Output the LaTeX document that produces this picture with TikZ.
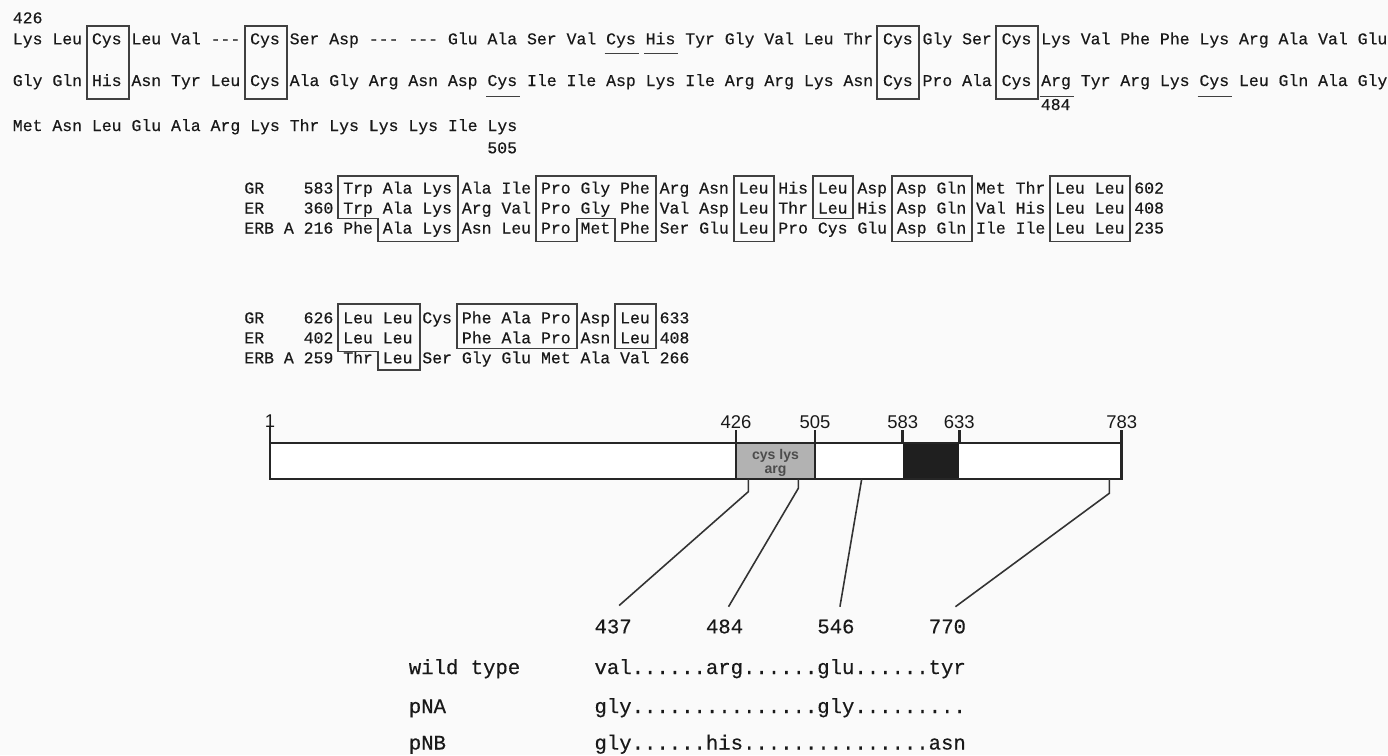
\documentclass[tikz,border=0pt]{standalone}
\usepackage{fontspec}
\newfontfamily\seqfont[FakeBold=0.4]{Liberation Mono}
\newfontfamily\barfont{Liberation Sans}
\usetikzlibrary{calc}
\tikzset{seqtext/.style={anchor=base west,inner sep=0pt,text=black!90,font=\seqfont\fontsize{9.38}{11}\selectfont}}
\tikzset{tabtext/.style={anchor=base west,inner sep=0pt,text=black!90,font=\seqfont\fontsize{11.74}{14}\selectfont}}
\tikzset{barnum/.style={anchor=base,inner sep=0pt,text=black!90,font=\barfont\fontsize{10.5}{12}\selectfont}}
\tikzset{motif/.style={draw=black!75,line width=1.1pt}}
\tikzset{uline/.style={draw=black!75,line width=1pt}}
\tikzset{barline/.style={draw=black!85,line width=1.4pt}}
\tikzset{link/.style={draw=black!80,line width=0.9pt}}
\newcommand{\gapres}{-\kern0pt-\kern0pt-}

\begin{document}
\begin{tikzpicture}[x=0.02cm,y=-0.02cm]
            \fill[black!2] (0,0) rectangle (1388,755);
            \useasboundingbox (0,0) rectangle (1388,755);
            \node[seqtext] (r426) at (12.5,23.3) {426};
            \node[seqtext] (row1) at (12.5,44.3) {Lys Leu Cys Leu Val \gapres{} Cys Ser Asp \gapres{} \gapres{} Glu Ala Ser Val Cys His Tyr Gly Val Leu Thr Cys Gly Ser Cys Lys Val Phe Phe Lys Arg Ala Val Glu};
            \node[seqtext] (row2) at (12.5,86) {Gly Gln His Asn Tyr Leu Cys Ala Gly Arg Asn Asp Cys Ile Ile Asp Lys Ile Arg Arg Lys Asn Cys Pro Ala Cys Arg Tyr Arg Lys Cys Leu Gln Ala Gly};
            \node[seqtext] (row3) at (12.5,131) {Met Asn Leu Glu Ala Arg Lys Thr Lys Lys Lys Ile Lys};
            \node[seqtext] (l484) at (1040.5,110) {484};
            \node[seqtext] (l505) at (487,153.3) {505};
            \draw[motif] (86.6,26) rectangle (128.6,99);
            \draw[motif] (244.7,26) rectangle (286.7,99);
            \draw[motif] (877.4,26) rectangle (919.4,99);
            \draw[motif] (996,26) rectangle (1038,99);
            \draw[uline] (604.6,53.5) -- (638.6,53.5);
            \draw[uline] (644.1,53.5) -- (678.1,53.5);
            \draw[uline] (486,96.5) -- (520,96.5);
            \draw[uline] (1039.5,96.5) -- (1073.5,96.5);
            \draw[uline] (1197.7,96.5) -- (1231.7,96.5);
            % GR / ER / ERB A, 583-602
            \node[seqtext] (gr1) at (244,193.5) {GR~~~~583 Trp Ala Lys Ala Ile Pro Gly Phe Arg Asn Leu His Leu Asp Asp Gln Met Thr Leu Leu 602};
            \node[seqtext] (er1) at (244,213.5) {ER~~~~360 Trp Ala Lys Arg Val Pro Gly Phe Val Asp Leu Thr Leu His Asp Gln Val His Leu Leu 408};
            \node[seqtext] (erb1) at (244,233.5) {ERB A 216 Phe Ala Lys Asn Leu Pro Met Phe Ser Glu Leu Pro Cys Glu Asp Gln Ile Ile Leu Leu 235};
            \draw[motif] (338.4,176) -- (457.9,176) -- (457.9,241.5) -- (377.9,241.5) -- (377.9,218.5) -- (338.4,218.5) -- cycle;
            \draw[motif] (536.1,176) -- (655.6,176) -- (655.6,241.5) -- (615.1,241.5) -- (615.1,218.5) -- (576.6,218.5) -- (576.6,241.5) -- (536.1,241.5) -- cycle;
            \draw[motif] (733.8,176) rectangle (774.3,241.5);
            \draw[motif] (812.9,176) rectangle (853.4,218.5);
            \draw[motif] (892,176) rectangle (972,241.5);
            \draw[motif] (1050.1,176) rectangle (1130.1,241.5);
            % GR / ER / ERB A, 626-633
            \node[seqtext] (gr2) at (244,323.3) {GR~~~~626 Leu Leu Cys Phe Ala Pro Asp Leu 633};
            \node[seqtext] (er2) at (244,343.3) {ER~~~~402 Leu Leu~~~~~Phe Ala Pro Asn Leu 408};
            \node[seqtext] (erb2) at (244,363.3) {ERB A 259 Thr Leu Ser Gly Glu Met Ala Val 266};
            \draw[motif] (338.4,304) -- (420,304) -- (420,370) -- (377.9,370) -- (377.9,351.5) -- (338.4,351.5) -- cycle;
            \draw[motif] (457,304) rectangle (576.6,348.5);
            \draw[motif] (615.1,304) rectangle (655.6,348.5);
            % receptor bar
            \fill[white] (270,443) rectangle (1121.7,479);
            \fill[black!30] (736,443) rectangle (815,479);
            \fill[black!88] (902.7,443) rectangle (959.3,479);
            \draw[barline] (270,443) rectangle (1121.7,479);
            \draw[barline] (736,443) -- (736,479);
            \draw[barline] (815,443) -- (815,479);
            \node[font=\barfont\bfseries\fontsize{8}{8}\selectfont,text=black!70,align=center,inner sep=0pt] (dbd) at (775.5,462.5) {cys lys\\arg};
            \node[barnum] (t1) at (270,427) {1};
            \node[barnum] (t426) at (736,428.3) {426};
            \node[barnum] (t505) at (815,428.3) {505};
            \node[barnum] (t583) at (902.7,428.3) {583};
            \node[barnum] (t633) at (959.3,428.3) {633};
            \node[barnum] (t783) at (1121.7,428.3) {783};
            \draw[barline] (270,427) -- (270,443);
            \draw[barline] (736,430) -- (736,443);
            \draw[barline] (815,430) -- (815,443);
            \draw[barline] (902.7,430) -- (902.7,443);
            \draw[barline] (959.3,430) -- (959.3,443);
            \draw[barline] (1121.7,430) -- (1121.7,443);
            % mutations
            \node[tabtext] (n437) at (594.2,633.3) {437};
            \node[tabtext] (n484) at (705.6,633.3) {484};
            \node[tabtext] (n546) at (817,633.3) {546};
            \node[tabtext] (n770) at (928.5,633.3) {770};
            \node[tabtext] (wt) at (408.5,674) {wild type~~~~~~val......arg......glu......tyr};
            \node[tabtext] (pna) at (408.5,713) {pNA~~~~~~~~~~~~gly...............gly.........};
            \node[tabtext] (pnb) at (408.5,749.5) {pNB~~~~~~~~~~~~gly......his...............asn};
            \coordinate (b437) at (748.3,479);
            \coordinate (b484) at (798.3,479);
            \coordinate (b546) at (861.7,479);
            \coordinate (b770) at (1109.3,479);
            \coordinate (e437) at ($(n437.base)+(6,-27.8)$);
            \coordinate (e484) at ($(n484.base)+(4,-26.6)$);
            \coordinate (e546) at ($(n546.base)+(4,-26.6)$);
            \coordinate (e770) at ($(n770.base)+(8,-26.6)$);
            \draw[link] (b437) -- ++(0,12.7) -- (e437);
            \draw[link] (b484) -- ++(0,9.3) -- (e484);
            \draw[link] (b546) -- (e546);
            \draw[link] (b770) -- ++(0,14.3) -- (e770);
        \end{tikzpicture}
\end{document}
